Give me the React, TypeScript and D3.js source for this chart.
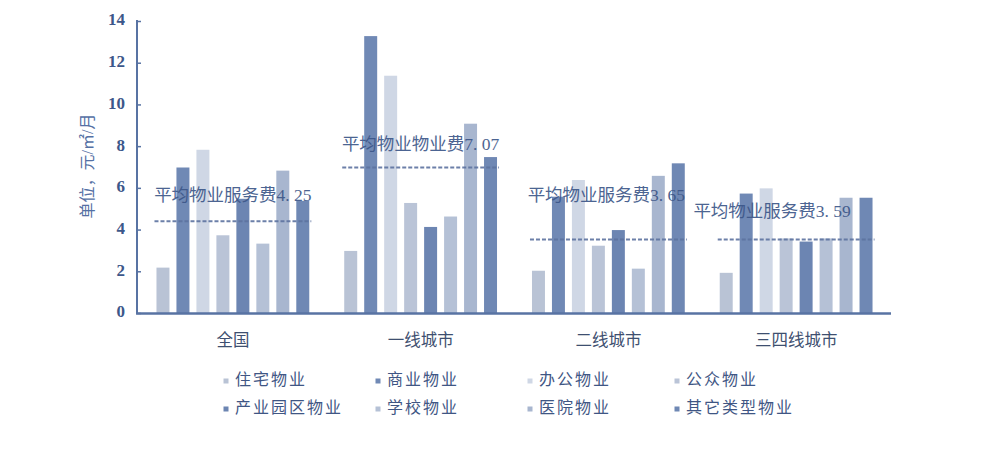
import React from "react";
import * as d3 from "d3";

const categories = ["全国", "一线城市", "二线城市", "三四线城市"];
const seriesNames = ["住宅物业", "商业物业", "办公物业", "公众物业", "产业园区物业", "学校物业", "医院物业", "其它类型物业"];
const seriesColors = ["#b9c3d5", "#7089b5", "#cfd7e5", "#bac4d7", "#6c85b2", "#b5c1d6", "#a8b6cf", "#6f88b4"];
// values per category, in series order
const valuesNational = [2.2, 7.0, 7.85, 3.75, 5.5, 3.35, 6.85, 5.4];
const valuesTier1 = [3.0, 13.3, 11.4, 5.3, 4.15, 4.65, 9.1, 7.5];
const valuesTier2 = [2.05, 5.6, 6.4, 3.25, 4.0, 2.15, 6.6, 7.2];
const valuesTier34 = [1.95, 5.75, 6.0, 3.6, 3.45, 3.6, 5.55, 5.55];
const groupValues = [valuesNational, valuesTier1, valuesTier2, valuesTier34];
const avgLabels = ["平均物业服务费4. 25", "平均物业物业费7. 07", "平均物业服务费3. 65", "平均物业服务费3. 59"];
const avgLineLevels = [4.42, 7.0, 3.55, 3.55];
const avgLabelLevels = [5.6, 8.05, 5.6, 4.8];
const yTicks = [0, 2, 4, 6, 8, 10, 12, 14];
const yLabel = "单位，元/㎡/月";

const W = 981;
const H = 457;
const axisX = 137;
const axisY = 313.5;
// horizontal nudges of the average labels relative to their group centre (layout only)
const avgLabelShift = [0, 0, -2, -24];

export default function App() {
  const y = d3.scaleLinear().domain([0, 14]).range([axisY, 21.5]);
  const x0 = d3.scaleBand<string>().domain(categories).range([139, 890]).paddingInner(0).paddingOuter(0);
  const x1 = d3
    .scaleBand<number>()
    .domain(d3.range(seriesNames.length))
    .range([0, x0.bandwidth()])
    .paddingInner(0.35)
    .paddingOuter(0.875);

  const serif = "'Liberation Serif', 'Noto Sans CJK SC', serif";
  const cjk = "'Noto Sans CJK SC', sans-serif";
  const axisColor = "#5873a3";

  const legendCols = [226, 378, 530, 677];
  const legendRows = [381, 409];

  return (
    <div style={{ position: "absolute", left: 0, top: 0 }}>
      <svg width={W} height={H} style={{ display: "block", background: "#ffffff" }}>
        {/* bars */}
        {categories.map((c, gi) => (
          <g key={c} transform={`translate(${x0(c)},0)`}>
            {groupValues[gi].map((v, si) => (
              <rect
                key={si}
                x={x1(si)}
                y={y(v)}
                width={x1.bandwidth()}
                height={axisY - y(v)}
                fill={seriesColors[si]}
              />
            ))}
          </g>
        ))}

        {/* average lines and labels */}
        {categories.map((c, gi) => {
          const gx = x0(c) as number;
          const xs = gx + (x1(0) as number) - 2;
          const xe = gx + (x1(seriesNames.length - 1) as number) + x1.bandwidth() + 2;
          return (
            <g key={"avg" + c}>
              <line
                x1={xs}
                x2={xe}
                y1={y(avgLineLevels[gi])}
                y2={y(avgLineLevels[gi])}
                stroke="#5d73a0"
                strokeWidth={2}
                strokeDasharray="4 2"
                opacity={0.9}
              />
              <text
                x={gx + x0.bandwidth() / 2 + avgLabelShift[gi]}
                y={y(avgLabelLevels[gi])}
                textAnchor="middle"
                fontFamily={serif}
                fontSize={17.5}
                fill="#3d5789"
                opacity={0.92}
                dominantBaseline="middle"
              >
                {avgLabels[gi]}
              </text>
            </g>
          );
        })}

        {/* axes */}
        <line x1={axisX} x2={axisX} y1={20} y2={axisY} stroke={axisColor} strokeWidth={2} />
        <line x1={axisX - 1} x2={891} y1={axisY} y2={axisY} stroke={axisColor} strokeWidth={2.5} />
        {yTicks.map((t) => (
          <g key={t}>
            <line x1={axisX} x2={axisX + 4} y1={y(t)} y2={y(t)} stroke={axisColor} strokeWidth={1.5} />
            <text
              x={125}
              y={y(t)}
              textAnchor="end"
              dominantBaseline="middle"
              fontFamily="'Liberation Serif', serif"
              fontWeight="bold"
              fontSize={17}
              fill="#3d578a"
            >
              {t}
            </text>
          </g>
        ))}
        <text
          transform={`translate(89,166) rotate(-90)`}
          textAnchor="middle"
          dominantBaseline="middle"
          fontFamily={serif}
          fontSize={16}
          fill="#5470a4"
        >
          {yLabel}
        </text>

        {/* category labels */}
        {categories.map((c) => (
          <text
            key={"cat" + c}
            x={(x0(c) as number) + x0.bandwidth() / 2}
            y={342}
            textAnchor="middle"
            dominantBaseline="middle"
            fontFamily={cjk}
            fontSize={16.5}
            fill="#3e4f70"
          >
            {c}
          </text>
        ))}

        {/* legend */}
        {seriesNames.map((s, i) => {
          const col = i % 4;
          const row = Math.floor(i / 4);
          const lx = legendCols[col];
          const ly = legendRows[row];
          return (
            <g key={"leg" + s}>
              <rect x={lx - 2.5} y={ly - 2.5} width={5} height={5} fill={seriesColors[i]} />
              <text
                x={lx + 9}
                y={ly}
                dominantBaseline="middle"
                fontFamily={cjk}
                fontSize={16}
                letterSpacing={2}
                fill="#3f5684"
              >
                {s}
              </text>
            </g>
          );
        })}
      </svg>
    </div>
  );
}
